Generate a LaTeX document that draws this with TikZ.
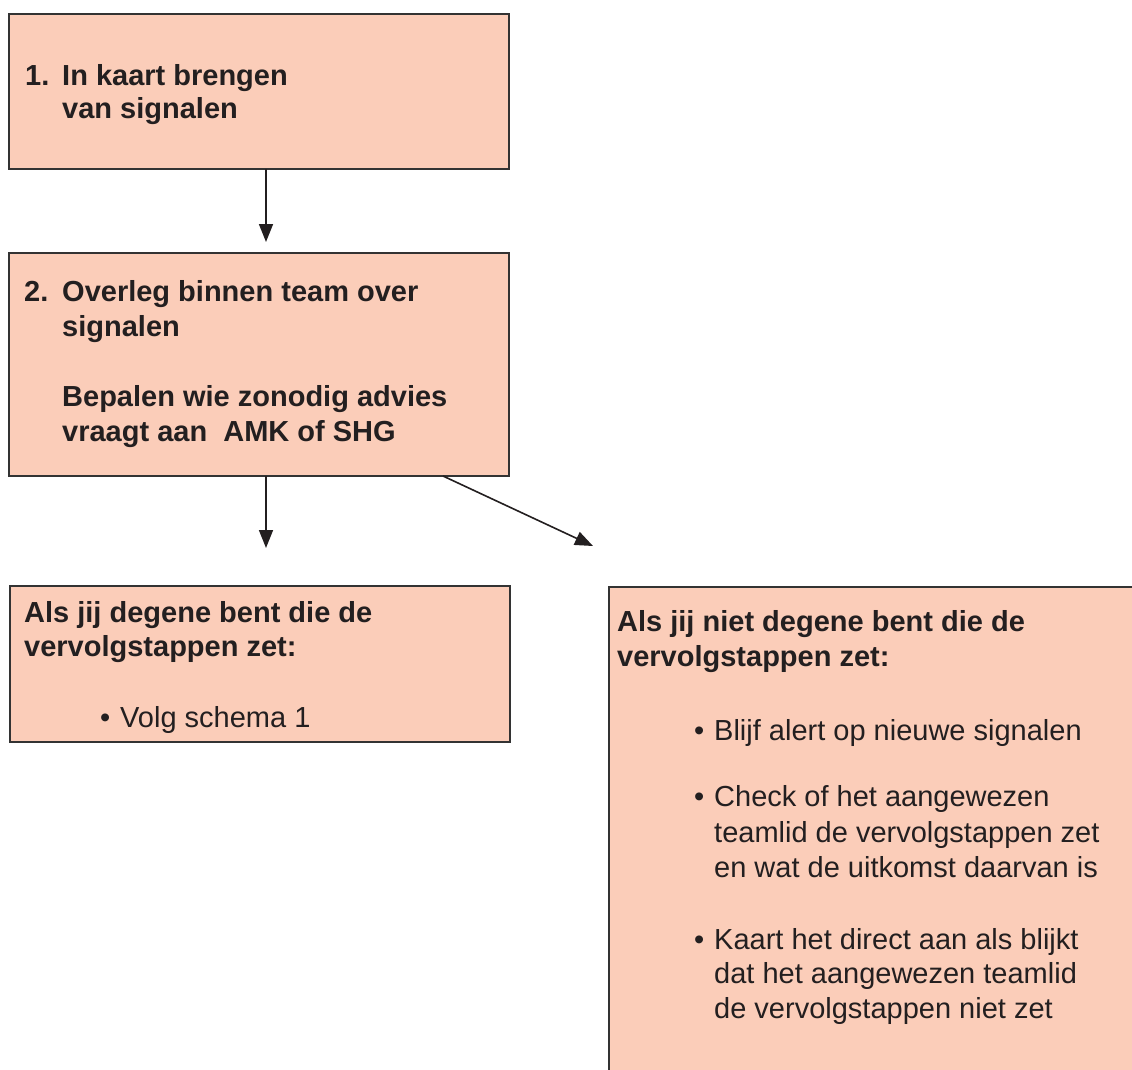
\documentclass[tikz,border=0pt]{standalone}
\usepackage{fontspec}
\setmainfont{Liberation Sans}
\usetikzlibrary{arrows.meta,calc}
\definecolor{boxfill}{RGB}{251,205,185}
\definecolor{boxline}{RGB}{51,51,51}
\definecolor{ink}{RGB}{35,31,32}
\begin{document}
\begin{tikzpicture}[x=1pt,y=-1pt,
  box/.style={draw=boxline,fill=boxfill,line width=1.5pt,rectangle,inner sep=0pt,outer sep=0pt,anchor=north west},
  txt/.style={anchor=base west,inner sep=0pt,text=ink,font=\fontsize{29}{34.5}\selectfont},
  btxt/.style={anchor=base west,inner sep=0pt,text=ink,font=\fontsize{29}{34.5}\selectfont\bfseries},
  arr/.style={draw=ink,line width=1.6pt,-{Triangle[length=18pt,width=14pt]}}]
\useasboundingbox (0,0) rectangle (1132,1070);
\clip (0,0) rectangle (1132,1070);
% boxes
\node[box,minimum width=500pt,minimum height=155pt] (b1) at (9,14) {};
\node[box,minimum width=500pt,minimum height=223pt] (b2) at (9,253) {};
\node[box,minimum width=500pt,minimum height=156pt] (b3) at (10,586) {};
\node[box,minimum width=560pt,minimum height=520pt] (b4) at (609,587) {};
% box 1 text
\node[btxt] (n1) at (25,86) {1.};
\node[btxt] (l1a) at (62,86) {In kaart brengen};
\node[btxt] (l1b) at (62,119) {van signalen};
% box 2 text
\node[btxt] (n2) at (24,301) {2.};
\node[btxt] (l2a) at (62,301) {Overleg binnen team over};
\node[btxt] (l2b) at (62,336) {signalen};
\node[btxt] (l2c) at (62,406) {Bepalen wie zonodig advies};
\node[btxt] (l2d) at (62,441) {vraagt aan\ \ AMK of SHG};
% box 3 text
\node[btxt] (l3a) at (24,622) {Als jij degene bent die de};
\node[btxt] (l3b) at (24,656) {vervolgstappen zet:};
\node[txt] (u3a) at (100,727) {•};
\node[txt] (l3c) at (120,727) {Volg schema 1};
% box 4 text
\node[btxt] (l4a) at (617,631) {Als jij niet degene bent die de};
\node[btxt] (l4b) at (617,666) {vervolgstappen zet:};
\node[txt] (u4a) at (694,740) {•};
\node[txt] (l4c) at (714,740) {Blijf alert op nieuwe signalen};
\node[txt] (u4b) at (694,806) {•};
\node[txt] (l4d) at (714,806) {Check of het aangewezen};
\node[txt] (l4e) at (714,842) {teamlid de vervolgstappen zet};
\node[txt] (l4f) at (714,877) {en wat de uitkomst daarvan is};
\node[txt] (u4c) at (694,949) {•};
\node[txt] (l4g) at (714,949) {Kaart het direct aan als blijkt};
\node[txt] (l4h) at (714,983) {dat het aangewezen teamlid};
\node[txt] (l4i) at (714,1018) {de vervolgstappen niet zet};
% connectors
\coordinate (e2) at (266,548);
\coordinate (e3) at (593,546);
\draw[arr,shorten >=11pt] ($(b1.south)+(7,0)$) -- ($(b2.north)+(7,0)$);
\draw[arr] ($(b2.south)+(7,0)$) -- (e2);
\draw[arr] ($(b2.south east)+(-66,0)$) -- (e3);
\end{tikzpicture}
\end{document}
